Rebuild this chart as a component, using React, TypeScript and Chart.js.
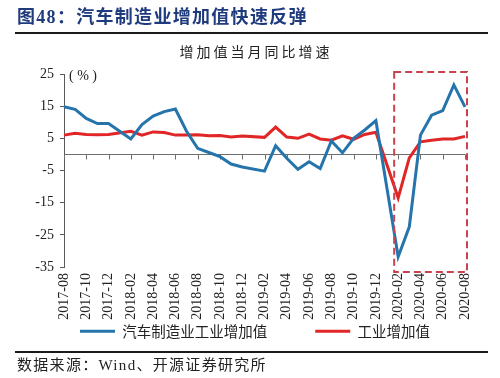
import React, { useEffect, useRef } from "react";
import { Chart, registerables } from "chart.js";

Chart.register(...registerables);

// ---------- data ----------
const months = [
  "2017-08", "2017-09", "2017-10", "2017-11", "2017-12",
  "2018-01", "2018-02", "2018-03", "2018-04", "2018-05", "2018-06",
  "2018-07", "2018-08", "2018-09", "2018-10", "2018-11", "2018-12",
  "2019-01", "2019-02", "2019-03", "2019-04", "2019-05", "2019-06",
  "2019-07", "2019-08", "2019-09", "2019-10", "2019-11", "2019-12",
  "2020-01", "2020-02", "2020-03", "2020-04", "2020-05", "2020-06",
  "2020-07", "2020-08",
];

const autoValueAdded: (number | null)[] = [
  14.8, 14.0, 11.2, 9.6, 9.6,
  null, 4.8, 9.3, 11.9, 13.3, 14.1,
  7.2, 1.9, 0.6, -0.7, -3.0, -3.9,
  null, -5.2, 2.7, -1.2, -4.6, -2.3,
  -4.4, 4.2, 0.5, 5.0, 7.6, 10.5,
  null, -31.8, -22.5, 6.0, 12.2, 13.6,
  21.6, 14.8,
];

const industryValueAdded: (number | null)[] = [
  6.0, 6.6, 6.2, 6.1, 6.2,
  null, 7.2, 6.0, 7.0, 6.8, 6.0,
  6.0, 6.1, 5.8, 5.9, 5.4, 5.7,
  null, 5.3, 8.5, 5.4, 5.0, 6.3,
  4.8, 4.4, 5.8, 4.7, 6.2, 6.9,
  null, -13.5, -1.1, 3.9, 4.4, 4.8,
  4.8, 5.6,
];

const yTicks = [25, 15, 5, -5, -15, -25, -35];
const seriesNames = ["汽车制造业工业增加值", "工业增加值"];
const highlightStart = "2020-02";
const highlightEnd = "2020-08";

const titleText = "图48：汽车制造业增加值快速反弹";
const subtitleText = "增加值当月同比增速";
const sourceText = "数据来源：Wind、开源证券研究所";
const unitText = "( % )";

const BLUE = "#2574ac";
const RED = "#e02626";
const BOX_RED = "#c9424e";
const SERIF = "'Liberation Serif', 'Noto Sans CJK SC', serif";
const CJK = "'Noto Sans CJK SC', 'Liberation Serif', sans-serif";

const LEGEND_GAP = 48;
const LEGEND_HEIGHT = 30;
const LEGEND_ITEM_OFFSET = 57; // px below plot bottom
const LEGEND_X = 80; // left of first legend swatch
const LEGEND_BOX_W = 600;

export default function App() {
  const ref = useRef<HTMLCanvasElement>(null);

  useEffect(() => {
    const canvas = ref.current;
    if (!canvas) return;

    const overlay = {
      id: "overlay",
      beforeLayout(chart: any) {
        const lg = chart.legend;
        if (lg && !lg.__patched) {
          const orig = lg.fit.bind(lg);
          lg.fit = () => {
            lg.maxWidth = LEGEND_BOX_W;
            orig();
            lg.height = LEGEND_HEIGHT;
          };
          lg.__patched = true;
        }
      },
      afterLayout(chart: any) {
        const lg = chart.legend;
        if (lg) {
          const itemTop = chart.chartArea.bottom + LEGEND_ITEM_OFFSET;
          lg.top = itemTop - LEGEND_GAP;
          lg.bottom = itemTop + 30;
          lg.height = lg.bottom - lg.top;
          const lw = (lg.lineWidths && lg.lineWidths[0]) || 0;
          lg.left = (2 * LEGEND_X - LEGEND_GAP - LEGEND_BOX_W + lw) / 2;
          lg.right = lg.left + LEGEND_BOX_W;
          lg.width = LEGEND_BOX_W;
        }
      },
      beforeDatasetsDraw(chart: any) {
        const { ctx, chartArea, scales } = chart;
        const x = scales.x;
        const y = scales.y;
        const y0 = Math.round(y.getPixelForValue(0)) + 0.5;
        ctx.save();
        ctx.strokeStyle = "#6f6f6f";
        ctx.lineWidth = 1;
        ctx.beginPath();
        ctx.moveTo(chartArea.left, y0);
        ctx.lineTo(chartArea.right, y0);
        months.forEach((_m, i) => {
          if (i % 2 === 0) {
            const px = Math.round(x.getPixelForValue(i)) + 0.5;
            ctx.moveTo(px, y0);
            ctx.lineTo(px, y0 + 5);
          }
        });
        ctx.stroke();
        ctx.fillStyle = "#222";
        ctx.font = "14px " + SERIF;
        ctx.textBaseline = "middle";
        ctx.textAlign = "left";
        ctx.fillText(unitText, chartArea.left + 5, chartArea.top + 2);
        ctx.restore();
      },
      afterDatasetsDraw(chart: any) {
        const { ctx, scales } = chart;
        const x = scales.x;
        const y = scales.y;
        const left = x.getPixelForValue(months.indexOf(highlightStart)) - 4;
        const right = x.getPixelForValue(months.indexOf(highlightEnd)) + 2;
        const top = y.getPixelForValue(yTicks[0]) - 2;
        const bottom = y.getPixelForValue(yTicks[yTicks.length - 1]) + 5;
        ctx.save();
        ctx.strokeStyle = BOX_RED;
        ctx.lineWidth = 2;
        ctx.setLineDash([7, 4]);
        ctx.strokeRect(left, top, right - left, bottom - top);
        ctx.restore();
      },
    };

    const chart = new Chart(canvas, {
      type: "line",
      data: {
        labels: months,
        datasets: [
          {
            label: seriesNames[0],
            data: autoValueAdded,
            borderColor: BLUE,
            backgroundColor: BLUE,
            borderWidth: 3,
            pointRadius: 0,
            tension: 0,
            spanGaps: true,
          },
          {
            label: seriesNames[1],
            data: industryValueAdded,
            borderColor: RED,
            backgroundColor: RED,
            borderWidth: 3,
            pointRadius: 0,
            tension: 0,
            spanGaps: true,
          },
        ],
      },
      options: {
        responsive: false,
        animation: false,
        events: [],
        layout: { padding: { left: 20, right: 35, top: 74, bottom: 23 } },
        plugins: {
          legend: {
            position: "bottom",
            labels: {
              boxWidth: 35,
              boxHeight: 3,
              padding: LEGEND_GAP,
              color: "#222",
              font: { family: CJK, size: 14.5 },
              generateLabels: (c: any) =>
                Chart.defaults.plugins.legend.labels
                  .generateLabels(c)
                  .map((l: any) => ({ ...l, lineWidth: 0 })),
            },
          },
          tooltip: { enabled: false },
        },
        scales: {
          x: {
            type: "category",
            offset: false,
            grid: { display: false, drawTicks: false },
            border: { display: false },
            ticks: {
              autoSkip: false,
              maxRotation: 90,
              minRotation: 90,
              padding: 6,
              color: "#222",
              font: { family: SERIF, size: 14 },
              callback: (_v: any, i: number) => (i % 2 === 0 ? months[i] : ""),
            },
            afterFit: (s: any) => {
              s.height = 58;
            },
          },
          y: {
            min: yTicks[yTicks.length - 1],
            max: yTicks[0],
            afterBuildTicks: (s: any) => {
              s.ticks = yTicks.map((v) => ({ value: v }));
            },
            grid: {
              drawOnChartArea: false,
              drawTicks: true,
              tickLength: 4,
              color: "#595959",
            },
            border: { display: true, color: "#595959" },
            ticks: {
              padding: 6,
              color: "#222",
              font: { family: SERIF, size: 14 },
            },
            afterFit: (s: any) => {
              s.width = 44;
            },
          },
        },
      },
      plugins: [overlay],
    } as any);

    return () => chart.destroy();
  }, []);

  return (
    <div
      style={{
        position: "absolute",
        left: 0,
        top: 0,
        width: 500,
        height: 378,
        background: "#fff",
        overflow: "hidden",
      }}
    >
      <canvas
        ref={ref}
        width={500}
        height={378}
        style={{ position: "absolute", left: 0, top: 0, width: 500, height: 378 }}
      />
      <div
        style={{
          position: "absolute",
          left: 17,
          top: 6,
          fontFamily: SERIF,
          fontWeight: "bold",
          fontSize: 18,
          lineHeight: "22px",
          color: "#1f3b7d",
          whiteSpace: "nowrap",
          letterSpacing: 1.3,
        }}
      >
        {titleText}
      </div>
      <div
        style={{
          position: "absolute",
          left: 15,
          top: 32,
          width: 473,
          height: 2,
          background: "#1a1a1a",
        }}
      />
      <div
        style={{
          position: "absolute",
          left: 0,
          width: 512,
          top: 42,
          textAlign: "center",
          fontFamily: CJK,
          fontSize: 14,
          lineHeight: "18px",
          color: "#222",
          letterSpacing: 3,
          whiteSpace: "nowrap",
        }}
      >
        {subtitleText}
      </div>
      <div
        style={{
          position: "absolute",
          left: 15,
          top: 351,
          width: 473,
          height: 2,
          background: "#1a1a1a",
        }}
      />
      <div
        style={{
          position: "absolute",
          left: 17,
          top: 356,
          fontFamily: SERIF,
          fontSize: 15,
          lineHeight: "19px",
          color: "#222",
          letterSpacing: 1.3,
          whiteSpace: "nowrap",
        }}
      >
        {sourceText}
      </div>
    </div>
  );
}
